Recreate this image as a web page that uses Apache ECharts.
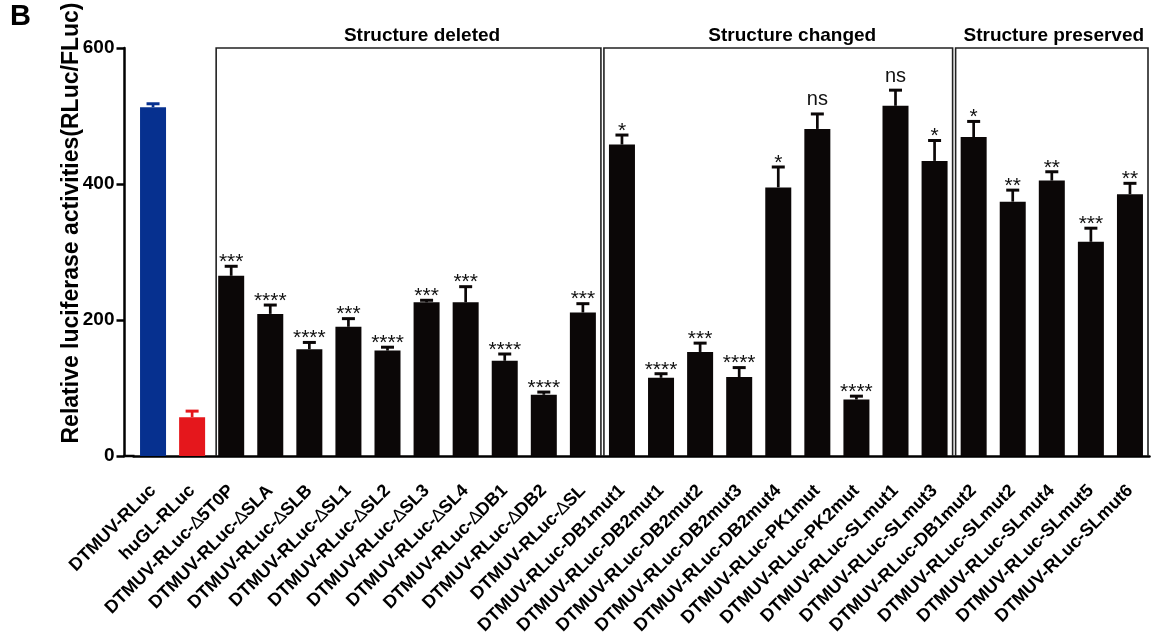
<!DOCTYPE html>
<html><head><meta charset="utf-8">
<script src="https://cdn.jsdelivr.net/npm/echarts@6/dist/echarts.min.js"></script>
<style>html,body{margin:0;padding:0;background:#fff}#c{width:1153px;height:636px}</style>
</head><body><div id="c"></div>
<script>
// ---------- data ----------
const categories = [
  'DTMUV-RLuc', 'huGL-RLuc', 'DTMUV-RLuc-Δ5T0P', 'DTMUV-RLuc-ΔSLA', 'DTMUV-RLuc-ΔSLB',
  'DTMUV-RLuc-ΔSL1', 'DTMUV-RLuc-ΔSL2', 'DTMUV-RLuc-ΔSL3', 'DTMUV-RLuc-ΔSL4',
  'DTMUV-RLuc-ΔDB1', 'DTMUV-RLuc-ΔDB2', 'DTMUV-RLuc-ΔSL', 'DTMUV-RLuc-DB1mut1',
  'DTMUV-RLuc-DB2mut1', 'DTMUV-RLuc-DB2mut2', 'DTMUV-RLuc-DB2mut3', 'DTMUV-RLuc-DB2mut4',
  'DTMUV-RLuc-PK1mut', 'DTMUV-RLuc-PK2mut', 'DTMUV-RLuc-SLmut1', 'DTMUV-RLuc-SLmut3',
  'DTMUV-RLuc-DB1mut2', 'DTMUV-RLuc-SLmut2', 'DTMUV-RLuc-SLmut4', 'DTMUV-RLuc-SLmut5',
  'DTMUV-RLuc-SLmut6'
];
const means  = [513, 57, 265, 209, 157, 190, 155, 226, 226, 140, 90, 211, 458, 115, 153, 116, 395, 481, 83, 515, 434, 469, 374, 405, 315, 385];
const errors = [5, 9, 14, 13, 10, 12, 5, 3, 23, 10, 4, 13, 14, 6, 13, 14, 30, 22, 5, 23, 30, 23, 17, 13, 20, 16];
const significance = ['', '', '***', '****', '****', '***', '****', '***', '***', '****', '****', '***',
  '*', '****', '***', '****', '*', 'ns', '****', 'ns', '*', '*', '**', '**', '***', '**'];
const groupNames = ['Structure deleted', 'Structure changed', 'Structure preserved'];
const groupStart = [2, 12, 21];
const groupEnd   = [11, 20, 25];
const yTicks = [0, 200, 400, 600];

// ---------- style ----------
const FONT = '"Liberation Sans", Arial, Helvetica, sans-serif';
const BLUE = '#06308f', RED = '#e5171c', BLACK = '#0b0707';
const colorFor = i => (i === 0 ? BLUE : i === 1 ? RED : BLACK);
const Y_OFFSET = 9;
const groupLabelShift = [15, 14, 2];

const chart = echarts.init(document.getElementById('c'), null, {renderer: 'canvas'});
const yMax = yTicks[yTicks.length - 1];

chart.setOption({
  animation: false,
  backgroundColor: '#fff',
  textStyle: {fontFamily: FONT},
  graphic: [{
    type: 'text', left: 10, top: 2,
    style: {text: 'B', fontSize: 29, fontWeight: 'bold', fontFamily: FONT, fill: '#000'}
  }],
  grid: {left: 133.5, right: 3.5, top: 48, bottom: 180, containLabel: false, outerBoundsMode: 'none'},
  xAxis: {
    type: 'category',
    data: categories,
    axisLine: {lineStyle: {color: '#000', width: 2.5}},
    axisTick: {alignWithLabel: true, length: 6, lineStyle: {color: '#000', width: 2.5}},
    axisLabel: {
      interval: 0, rotate: 45, margin: 32, color: '#000',
      fontSize: 18, fontWeight: 'bold', fontFamily: FONT,
      formatter: v => v.replace('Δ', '{d|∆}'),
      rich: {d: {fontSize: 18, fontWeight: 'normal', fontFamily: FONT, color: '#000'}}
    }
  },
  yAxis: {
    type: 'value', min: yTicks[0], max: yMax, interval: yTicks[1] - yTicks[0],
    offset: Y_OFFSET,
    name: 'Relative luciferase activities(RLuc/FLuc)',
    nameLocation: 'middle', nameGap: 41, nameMoveOverlap: false,
    nameTextStyle: {fontSize: 23, fontWeight: 'bold', color: '#000', fontFamily: FONT, padding: [0, 0, 0, 58]},
    axisLine: {show: true, lineStyle: {color: '#000', width: 2.5}},
    axisTick: {show: true, length: 8, lineStyle: {color: '#000', width: 2.5}},
    splitLine: {show: false},
    axisLabel: {margin: 10, color: '#000', fontSize: 19, fontWeight: 'bold', fontFamily: FONT}
  },
  series: [
    {
      type: 'bar',
      barWidth: 26,
      data: means.map((v, i) => ({value: v, itemStyle: {color: colorFor(i)}})),
      z: 2
    },
    {
      type: 'custom',
      z: 5,
      data: means.map((m, i) => [i, m, errors[i]]),
      renderItem(params, api) {
        const i = api.value(0), m = api.value(1), e = api.value(2);
        const base = api.coord([i, m]);
        const top = api.coord([i, m + e]);
        const c = colorFor(i);
        const half = 6.5;
        const children = [
          {type: 'line', shape: {x1: base[0], y1: base[1], x2: top[0], y2: top[1]}, style: {stroke: c, lineWidth: 2.7}},
          {type: 'line', shape: {x1: top[0] - half, y1: top[1], x2: top[0] + half, y2: top[1]}, style: {stroke: c, lineWidth: 3}}
        ];
        const s = significance[i];
        if (s) {
          const isNs = s === 'ns';
          children.push({
            type: 'text', x: top[0], y: top[1] + (isNs ? -14 : -4),
            style: {text: s, fontSize: isNs ? 20 : 21, fontFamily: FONT, fill: '#111', align: 'center', verticalAlign: 'middle'}
          });
        }
        if (i === 0) {
          // extend x-axis line to the offset y-axis
          const band = api.size([1, 0])[0];
          const zero = api.coord([0, 0]);
          const gl = zero[0] - band / 2;
          children.push({type: 'line', shape: {x1: gl - Y_OFFSET - 1.25, y1: zero[1], x2: gl + 1, y2: zero[1]},
            style: {stroke: '#000', lineWidth: 2.5}});
        }
        return {type: 'group', children};
      }
    },
    {
      type: 'custom',
      z: 3,
      data: groupNames.map((n, k) => [groupStart[k], groupEnd[k], k]),
      renderItem(params, api) {
        const s = api.value(0), e = api.value(1), k = api.value(2);
        const band = api.size([1, 0])[0];
        const ps = api.coord([s, yMax]);
        const pe = api.coord([e, 0]);
        const inset = 1.5;
        const x0 = ps[0] - band / 2 + inset + (k === 0 ? 3 : 0);
        const x1 = pe[0] + band / 2 - inset;
        const yt = ps[1], yb = pe[1];
        return {
          type: 'group',
          children: [
            {type: 'polyline', shape: {points: [[x0, yb], [x0, yt], [x1, yt], [x1, yb]]},
              style: {stroke: '#222', lineWidth: 1.6, fill: null}},
            {type: 'text', x: (x0 + x1) / 2 + groupLabelShift[k] - (k === 0 ? 1.5 : 0), y: yt - 12,
              style: {text: groupNames[k], fontSize: 19, fontWeight: 'bold', fontFamily: FONT, fill: '#000',
                align: 'center', verticalAlign: 'middle'}}
          ]
        };
      }
    }
  ]
});
</script>
</body></html>
